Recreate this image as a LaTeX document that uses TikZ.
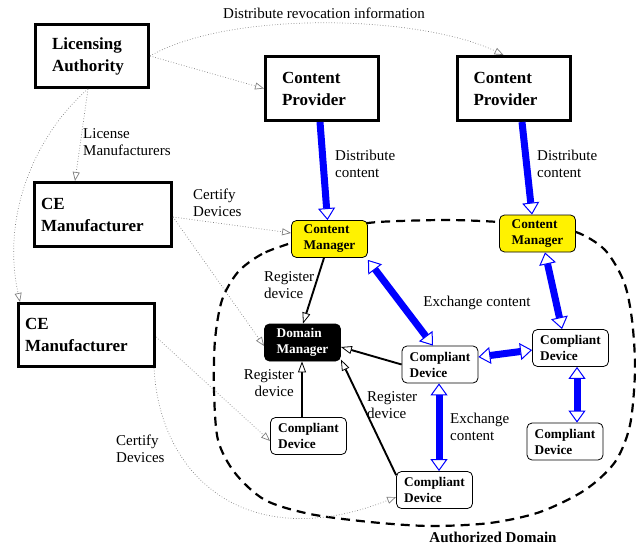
\documentclass[tikz,border=0pt]{standalone}
\usepackage{fontspec}
\setmainfont{Liberation Serif}
\usetikzlibrary{arrows.meta}
\tikzset{
  bigbox/.style={draw, line width=3pt, font=\bfseries\fontsize{17}{22}\selectfont, align=left, inner ysep=0pt},
  rbox/.style={draw, line width=0.8pt, rounded corners=5pt, font=\bfseries\fontsize{13.3}{16}\selectfont, align=left, fill=white, inner sep=0pt, minimum width=76pt, minimum height=37pt},
  cmbox/.style={rbox, fill=yellow},
  dmbox/.style={rbox, fill=black, text=white},
  lbl/.style={font=\fontsize{15}{17.5}\selectfont, align=left, inner sep=0pt},
  cert/.style={draw=gray, dotted, line width=0.7pt, -{Triangle[open, length=9pt, width=7pt, line width=0.7pt]}},
  reg/.style={draw=black, line width=1.9pt, -{Triangle[fill=white, length=11pt, width=8pt, line width=0.8pt]}},
  xch/.style={draw=blue, line width=7pt, {Triangle[fill=white, length=12pt, width=17pt, line width=1pt]}-{Triangle[fill=white, length=12pt, width=17pt, line width=1pt]}},
  dist/.style={draw=blue, line width=7pt, -{Triangle[fill=white, length=12pt, width=17pt, line width=1pt]}},
}
\begin{document}
\begin{tikzpicture}[x=1pt,y=-1pt]
\useasboundingbox (0,0) rectangle (636,545);

% authorized domain boundary
\draw[line width=2.2pt, dash pattern=on 9pt off 6pt] plot[smooth cycle] coordinates {
  (291,243) (262,254) (238,272) (222,300) (215,340) (214,390) (218,440) (235,473)
  (265,500) (310,514) (370,522) (430,526) (490,523) (540,512) (585,490) (615,462)
  (630,425) (635,370) (632,320) (624,282) (605,250) (576,232) (537,226) (499,222)
  (450,220) (400,221) (368,223) (330,230)};

% big boxes
\node[bigbox, minimum height=63pt, inner xsep=16.5pt, text width=80pt] (LA) at (92,56) {Licensing\\Authority};
\node[bigbox, minimum height=64pt, inner xsep=16.5pt, text width=80pt] (CP1) at (322,88.5) {Content\\Provider};
\node[bigbox, minimum height=64pt, inner xsep=16.5pt, text width=80pt] (CP2) at (513.5,88.5) {Content\\Provider};
\node[bigbox, minimum height=64pt, inner xsep=6.5pt, text width=124pt] (CE1) at (103,214.5) {CE\\Manufacturer};
\node[bigbox, minimum height=63pt, inner xsep=6.5pt, text width=123pt] (CE2) at (86.5,335) {CE\\Manufacturer};

% rounded boxes
\node[cmbox] (CM1) at (329.5,239) {Content\\Manager};
\node[cmbox] (CM2) at (537.5,233.5) {Content\\Manager};
\node[dmbox] (DM) at (302.5,342.5) {Domain\\Manager};
\node[rbox] (CD1) at (440,364.5) {Compliant\\Device};
\node[rbox] (CD2) at (570.5,348) {Compliant\\Device};
\node[rbox] (CD3) at (565,441.5) {Compliant\\Device};
\node[rbox] (CD4) at (434.5,490) {Compliant\\Device};
\node[rbox] (CD5) at (308.5,436) {Compliant\\Device};

% labels
\node[lbl] (Lrev) at (324,13) {Distribute revocation information};
\node[lbl, anchor=west] (Llic) at (83,142) {License\\Manufacturers};
\node[lbl, anchor=west] (Ldist1) at (335,164) {Distribute\\content};
\node[lbl, anchor=west] (Ldist2) at (537,164) {Distribute\\content};
\node[lbl, anchor=west] (Lcert1) at (193,203) {Certify\\Devices};
\node[lbl, anchor=west] (Lreg1) at (264,285) {Register\\device};
\node[lbl] (Lex1) at (477,303) {Exchange content};
\node[lbl, anchor=east, align=right] (Lreg2) at (294,383) {Register\\device};
\node[lbl, anchor=west] (Lreg3) at (367,405) {Register\\device};
\node[lbl, anchor=west] (Lex2) at (450,427) {Exchange\\content};
\node[lbl, anchor=west] (Lcert2) at (116,449) {Certify\\Devices};
\node[font=\bfseries\fontsize{15}{18}\selectfont, inner sep=0pt] (Ldom) at (493,537) {Authorized Domain};

% gray dotted certification connectors
\draw[cert] (LA.east) -- (CP1.west);
\draw[cert] (LA.east) .. controls (230,10) and (420,15) .. ([xshift=-10pt]CP2.north);
\draw[cert] ([xshift=-4pt]LA.south) -- ([xshift=-28pt]CE1.north);
\draw[cert] ([xshift=-4pt]LA.south) .. controls (40,130) and (0,210) .. ([xshift=3pt]CE2.north west);
\draw[cert] ([yshift=-2.5pt]CE1.east) -- ([yshift=6pt]CM1.west);
\draw[cert] ([yshift=-2.5pt]CE1.east) -- ([yshift=-3.5pt]DM.west);
\draw[cert] ([yshift=-2pt]CE2.east) -- ([yshift=-5pt]CD5.west);
\draw[cert] ([xshift=-2pt]CE2.south east) .. controls (160,480) and (250,555) .. ([yshift=-7pt]CD4.west);

% blue content connectors
\draw[dist] ([xshift=-2pt]CP1.south) -- ([xshift=-2pt]CM1.north);
\draw[dist] ([xshift=8.5pt]CP2.south) -- ([xshift=-5.5pt]CM2.north);
\draw[xch] ([yshift=-2pt]CM1.south east) -- ([xshift=-7pt]CD1.north);
\draw[xch] ([xshift=7.5pt]CM2.south) -- ([xshift=-8.5pt]CD2.north);
\draw[xch] ([yshift=7.5pt]CD1.east) -- ([yshift=-2pt]CD2.west);
\draw[xch] ([xshift=6.5pt]CD2.south) -- ([xshift=12pt]CD3.north);
\draw[xch] ([xshift=-1pt]CD1.south) -- ([xshift=4.5pt]CD4.north);

% black registration connectors
\draw[reg] ([xshift=-5.5pt]CM1.south) -- ([xshift=0.5pt]DM.north);
\draw[reg] (CD1.west) -- ([yshift=-4.5pt]DM.east);
\draw[reg] ([xshift=-6.5pt]CD5.north) -- ([xshift=-0.5pt]DM.south);
\draw[reg] ([yshift=-4pt]CD4.north west) -- ([yshift=-17pt]DM.east);
\end{tikzpicture}
\end{document}
